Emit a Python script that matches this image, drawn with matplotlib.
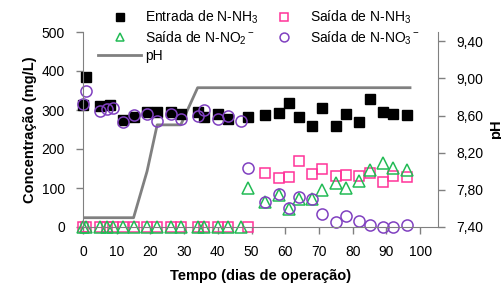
import matplotlib
matplotlib.use('Agg')
import matplotlib.pyplot as plt
from matplotlib.ticker import FuncFormatter

plt.rcParams['font.family'] = ['Liberation Sans', 'DejaVu Sans']
plt.rcParams['mathtext.fontset'] = 'custom'
plt.rcParams['mathtext.rm'] = 'Liberation Sans'
plt.rcParams['mathtext.it'] = 'Liberation Sans'
plt.rcParams['mathtext.bf'] = 'Liberation Sans:bold'

# dados
dias_ent = [0, 1, 5, 8, 12, 15, 19, 22, 26, 29, 34, 36, 40, 43, 49,
            54, 58, 61, 64, 68, 71, 75, 78, 82, 85, 89, 92, 96]
entrada_nh3 = [312, 385, 309, 314, 274, 281, 295, 295, 295, 290, 296, 283, 290, 278, 283,
               287, 292, 317, 283, 258, 305, 260, 289, 268, 327, 294, 289, 286]

dias_no3 = [0, 1, 5, 7, 9, 12, 15, 19, 22, 26, 29, 34, 36, 40, 43, 47, 49,
            54, 58, 61, 64, 68, 71, 75, 78, 82, 85, 89, 92, 96]
saida_no3 = [316, 348, 298, 302, 304, 268, 286, 290, 273, 291, 276, 285, 301, 277, 284, 271, 152,
             63, 84, 49, 76, 71, 34, 14, 28, 15, 5, 0, 0, 4]

dias_no2 = [0, 1, 5, 7, 9, 12, 15, 19, 22, 26, 29, 34, 36, 40, 43, 47,
            49, 54, 58, 61, 64, 68, 71, 75, 78, 82, 85, 89, 92, 96]
saida_no2 = [0, 0, 0, 0, 0, 0, 0, 0, 0, 0, 0, 0, 0, 0, 0, 0,
             100, 65, 81, 46, 72, 71, 96, 112, 101, 117, 145, 163, 152, 147]

dias_sai = [0, 1, 5, 7, 9, 12, 15, 19, 22, 26, 29, 34, 36, 40, 43, 49,
            54, 58, 61, 64, 68, 71, 75, 78, 82, 85, 89, 92, 96]
saida_nh3 = [0, 0, 0, 0, 0, 0, 0, 0, 0, 0, 0, 0, 0, 0, 0, 0,
             139, 126, 129, 168, 137, 149, 130, 134, 132, 139, 116, 130, 129]

dias_ph = [0, 15, 19, 22, 29, 34, 97]
ph = [7.5, 7.5, 8.0, 8.5, 8.5, 8.9, 8.9]

cinza = '#808080'

fig = plt.figure(figsize=(5.02, 2.88), dpi=100)
ax = fig.add_axes([83/502, 61/288, 355/502, 195/288])
ax2 = ax.twinx()
ax.set_zorder(ax2.get_zorder() + 1)
ax.patch.set_visible(False)

l_ph, = ax2.plot(dias_ph, ph, color=cinza, lw=2, label='pH')

h1, = ax.plot(dias_ent, entrada_nh3, 's', color='black', ms=7.3, clip_on=False,
              label='Entrada de N-NH$_3$')
h2, = ax.plot(dias_sai, saida_nh3, 's', mfc='none', mec='#FF3399', mew=1.1, ms=7,
              clip_on=False, label='Saída de N-NH$_3$')
h3, = ax.plot(dias_no2, saida_no2, '^', mfc='none', mec='#22BB55', mew=1.1, ms=8,
              clip_on=False, label='Saída de N-NO$_2$$^-$')
h4, = ax.plot(dias_no3, saida_no3, 'o', mfc='none', mec='#8040C0', mew=1.1, ms=8,
              clip_on=False, label='Saída de N-NO$_3$$^-$')

ax.set_xlim(0, 105.3)
ax.set_ylim(0, 500)
ax2.set_ylim(7.4, 9.5)
ax.set_xticks(range(0, 101, 10))
ax.set_yticks(range(0, 501, 100))
ax2.set_yticks([7.4, 7.8, 8.2, 8.6, 9.0, 9.4])
ax2.yaxis.set_major_formatter(FuncFormatter(lambda v, p: ('%.2f' % v).replace('.', ',')))

for a in (ax, ax2):
    for s in a.spines.values():
        s.set_visible(False)
    a.tick_params(colors=cinza, labelcolor='black', labelsize=10, length=5, width=1)
ax.spines['left'].set_visible(True)
ax.spines['bottom'].set_visible(True)
ax2.spines['right'].set_visible(True)
ax.spines['left'].set_color(cinza)
ax.spines['bottom'].set_color(cinza)
ax2.spines['right'].set_color(cinza)
ax.tick_params(axis='y', pad=8)
ax.tick_params(axis='x', pad=8)
ax2.tick_params(axis='y', pad=8)

ax.set_xlabel('Tempo (dias de operação)', fontsize=10.5, fontweight='bold', labelpad=7)
ax.set_ylabel('Concentração (mg/L)', fontsize=10.5, fontweight='bold', labelpad=3)
ax2.set_ylabel('pH', fontsize=10.5, fontweight='bold', rotation=90)

fig.legend(handles=[h1, h3, l_ph, h2, h4], ncol=2, loc='upper left',
           bbox_to_anchor=(98/502, 1 - 9/288), frameon=False, fontsize=10,
           handlelength=3.1, handletextpad=0.3, columnspacing=0.3,
           labelspacing=0.2, borderaxespad=0, borderpad=0, markerscale=0.8)

fig.savefig('out.png', dpi=100)
